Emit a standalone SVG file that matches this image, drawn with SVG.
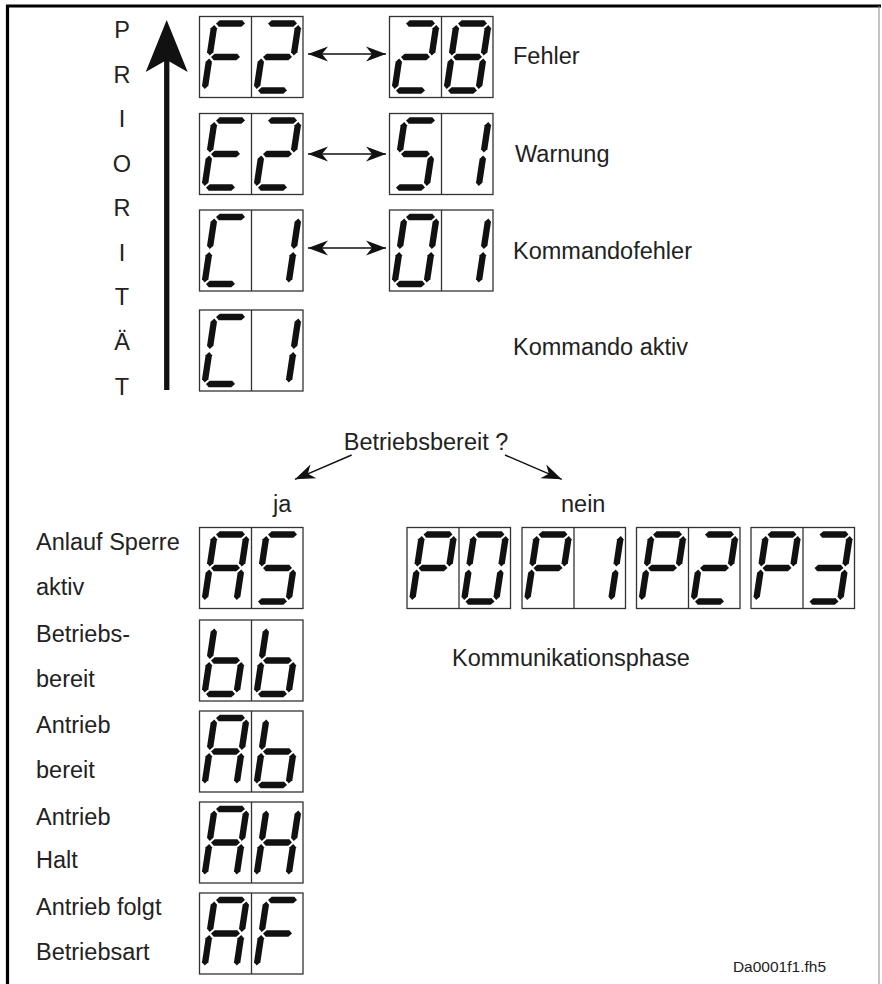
<svg xmlns="http://www.w3.org/2000/svg" xmlns:xlink="http://www.w3.org/1999/xlink" width="882" height="984" viewBox="0 0 882 984">
<style>
.t{font-family:"Liberation Sans",Arial,sans-serif;font-size:23.5px;fill:#222}
.small{font-family:"Liberation Sans",Arial,sans-serif;font-size:15.5px;fill:#222}
.box{fill:#fff;stroke:#333;stroke-width:1.3}
.div{stroke:#333;stroke-width:1.3}
.seg{fill:#111}
.con{stroke:#111;stroke-width:1.4;fill:none}
</style>
<defs>
<marker id="ah" viewBox="-21 -9 22 18" refX="0" refY="0" markerWidth="22" markerHeight="18" markerUnits="userSpaceOnUse" orient="auto-start-reverse">
<path d="M0,0 L-20,-7.5 L-14,0 L-20,7.5 Z" fill="#111"/>
</marker>
<polygon id="sa" class="seg" points="11.5,7 14.7,3.8 37.3,3.8 40.5,7 37.3,10.2 14.7,10.2"/>
<polygon id="sg" class="seg" points="11.5,40.5 14.7,37.3 37.3,37.3 40.5,40.5 37.3,43.7 14.7,43.7"/>
<polygon id="sd" class="seg" points="11.5,74 14.7,70.8 37.3,70.8 40.5,74 37.3,77.2 14.7,77.2"/>
<polygon id="sf" class="seg" points="10,8.5 13.2,11.7 13.2,35.8 10,39 6.8,35.8 6.8,11.7"/>
<polygon id="se" class="seg" points="10,42 13.2,45.2 13.2,69.3 10,72.5 6.8,69.3 6.8,45.2"/>
<polygon id="sb" class="seg" points="42,8.5 45.2,11.7 45.2,35.8 42,39 38.8,35.8 38.8,11.7"/>
<polygon id="sc" class="seg" points="42,42 45.2,45.2 45.2,69.3 42,72.5 38.8,69.3 38.8,45.2"/>
<g id="dF" transform="translate(6.08,0) skewX(-8.53)"><use href="#sa"/><use href="#sf"/><use href="#sg"/><use href="#se"/></g>
<g id="d2" transform="translate(6.08,0) skewX(-8.53)"><use href="#sa"/><use href="#sb"/><use href="#sg"/><use href="#se"/><use href="#sd"/></g>
<g id="d8" transform="translate(6.08,0) skewX(-8.53)"><use href="#sa"/><use href="#sb"/><use href="#sc"/><use href="#sd"/><use href="#se"/><use href="#sf"/><use href="#sg"/></g>
<g id="dE" transform="translate(6.08,0) skewX(-8.53)"><use href="#sa"/><use href="#sf"/><use href="#sg"/><use href="#se"/><use href="#sd"/></g>
<g id="d5" transform="translate(6.08,0) skewX(-8.53)"><use href="#sa"/><use href="#sf"/><use href="#sg"/><use href="#sc"/><use href="#sd"/></g>
<g id="d1" transform="translate(6.08,0) skewX(-8.53)"><use href="#sb"/><use href="#sc"/></g>
<g id="dC" transform="translate(6.08,0) skewX(-8.53)"><use href="#sa"/><use href="#sf"/><use href="#se"/><use href="#sd"/></g>
<g id="d0" transform="translate(6.08,0) skewX(-8.53)"><use href="#sa"/><use href="#sb"/><use href="#sc"/><use href="#sd"/><use href="#se"/><use href="#sf"/></g>
<g id="dA" transform="translate(6.08,0) skewX(-8.53)"><use href="#sa"/><use href="#sb"/><use href="#sc"/><use href="#se"/><use href="#sf"/><use href="#sg"/></g>
<g id="db" transform="translate(6.08,0) skewX(-8.53)"><use href="#sf"/><use href="#se"/><use href="#sg"/><use href="#sc"/><use href="#sd"/></g>
<g id="dH" transform="translate(6.08,0) skewX(-8.53)"><use href="#sb"/><use href="#sc"/><use href="#se"/><use href="#sf"/><use href="#sg"/></g>
<g id="dP" transform="translate(6.08,0) skewX(-8.53)"><use href="#sa"/><use href="#sb"/><use href="#sf"/><use href="#sg"/><use href="#se"/></g>
<g id="d3" transform="translate(6.08,0) skewX(-8.53)"><use href="#sa"/><use href="#sb"/><use href="#sg"/><use href="#sc"/><use href="#sd"/></g>
<g id="frame2"><rect class="box" x="0" y="0" width="103.5" height="81"/><line class="div" x1="52" y1="0" x2="52" y2="81"/></g>
</defs>

<g id="frame">
<line x1="6" y1="6" x2="881" y2="6" stroke="#000" stroke-width="3.2"/>
<line x1="7.5" y1="5" x2="7.5" y2="984" stroke="#000" stroke-width="3.2"/>
<line x1="879" y1="6" x2="879" y2="984" stroke="#888" stroke-width="1"/>
</g>

<g id="priority">
<rect x="164.1" y="58" width="5.3" height="332" fill="#111"/>
<polygon points="166.7,20 187.7,72 166.7,60 145.7,72" fill="#111"/>
<g class="t" text-anchor="middle">
<text x="122" y="38">P</text>
<text x="122" y="83">R</text>
<text x="122" y="127">I</text>
<text x="122" y="172">O</text>
<text x="122" y="216">R</text>
<text x="122" y="261">I</text>
<text x="122" y="305">T</text>
<text x="122" y="350">Ä</text>
<text x="122" y="395">T</text>
</g>
</g>

<g id="row-F2"><use href="#frame2" x="199.5" y="16.5"/><use href="#dF" x="199.5" y="16.5"/><use href="#d2" x="251.5" y="16.5"/></g>
<g id="row-28"><use href="#frame2" x="389.5" y="16.5"/><use href="#d2" x="389.5" y="16.5"/><use href="#d8" x="441.5" y="16.5"/></g>
<g id="row-E2"><use href="#frame2" x="199.5" y="113.5"/><use href="#dE" x="199.5" y="113.5"/><use href="#d2" x="251.5" y="113.5"/></g>
<g id="row-51"><use href="#frame2" x="389.5" y="113.5"/><use href="#d5" x="389.5" y="113.5"/><use href="#d1" x="441.5" y="113.5"/></g>
<g id="row-C1a"><use href="#frame2" x="199.5" y="210"/><use href="#dC" x="199.5" y="210"/><use href="#d1" x="251.5" y="210"/></g>
<g id="row-01"><use href="#frame2" x="389.5" y="210"/><use href="#d0" x="389.5" y="210"/><use href="#d1" x="441.5" y="210"/></g>
<g id="row-C1b"><use href="#frame2" x="199.5" y="310"/><use href="#dC" x="199.5" y="310"/><use href="#d1" x="251.5" y="310"/></g>

<g id="disp-AS"><use href="#frame2" x="199.5" y="527.5"/><use href="#dA" x="199.5" y="527.5"/><use href="#d5" x="251.5" y="527.5"/></g>
<g id="disp-bb"><use href="#frame2" x="199.5" y="620"/><use href="#db" x="199.5" y="620"/><use href="#db" x="251.5" y="620"/></g>
<g id="disp-Ab"><use href="#frame2" x="199.5" y="711"/><use href="#dA" x="199.5" y="711"/><use href="#db" x="251.5" y="711"/></g>
<g id="disp-AH"><use href="#frame2" x="199.5" y="802"/><use href="#dA" x="199.5" y="802"/><use href="#dH" x="251.5" y="802"/></g>
<g id="disp-AF"><use href="#frame2" x="199.5" y="893"/><use href="#dA" x="199.5" y="893"/><use href="#dF" x="251.5" y="893"/></g>

<g id="disp-P0"><use href="#frame2" x="407" y="527.5"/><use href="#dP" x="407" y="527.5"/><use href="#d0" x="459" y="527.5"/></g>
<g id="disp-P1"><use href="#frame2" x="522" y="527.5"/><use href="#dP" x="522" y="527.5"/><use href="#d1" x="574" y="527.5"/></g>
<g id="disp-P2"><use href="#frame2" x="636.5" y="527.5"/><use href="#dP" x="636.5" y="527.5"/><use href="#d2" x="688.5" y="527.5"/></g>
<g id="disp-P3"><use href="#frame2" x="751" y="527.5"/><use href="#dP" x="751" y="527.5"/><use href="#d3" x="803" y="527.5"/></g>

<g id="connectors">
<line class="con" x1="308" y1="54" x2="386" y2="54" marker-start="url(#ah)" marker-end="url(#ah)"/>
<line class="con" x1="308" y1="154" x2="386" y2="154" marker-start="url(#ah)" marker-end="url(#ah)"/>
<line class="con" x1="308" y1="248" x2="386" y2="248" marker-start="url(#ah)" marker-end="url(#ah)"/>
<line class="con" x1="351.7" y1="455" x2="295" y2="479.3" marker-end="url(#ah)"/>
<line class="con" x1="505" y1="455" x2="561.7" y2="479.3" marker-end="url(#ah)"/>
</g>

<g id="labels" class="t">
<text x="513" y="64">Fehler</text>
<text x="515" y="162">Warnung</text>
<text x="513" y="259">Kommandofehler</text>
<text x="513" y="355">Kommando aktiv</text>
<text x="426" y="450" text-anchor="middle">Betriebsbereit ?</text>
<text x="273" y="512">ja</text>
<text x="561" y="512">nein</text>
<text x="36" y="550">Anlauf Sperre</text>
<text x="36" y="595">aktiv</text>
<text x="36" y="642">Betriebs-</text>
<text x="36" y="687">bereit</text>
<text x="36" y="733">Antrieb</text>
<text x="36" y="778">bereit</text>
<text x="36" y="825">Antrieb</text>
<text x="36" y="868">Halt</text>
<text x="36" y="915">Antrieb folgt</text>
<text x="36" y="960">Betriebsart</text>
<text x="452" y="666">Kommunikationsphase</text>
</g>
<text class="small" x="826" y="972" text-anchor="end">Da0001f1.fh5</text>
</svg>
